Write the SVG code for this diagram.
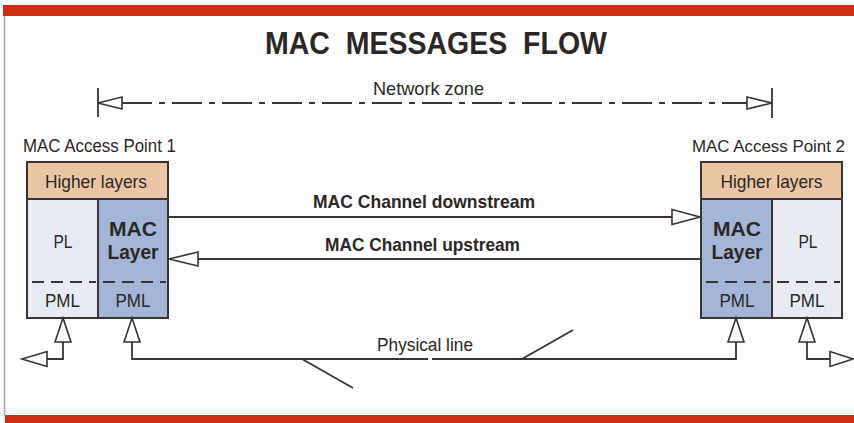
<svg xmlns="http://www.w3.org/2000/svg" width="854" height="423" viewBox="0 0 854 423">
<style>
.ln{stroke:#3a3331;stroke-width:1.8;fill:none}
.ah{stroke:#3a3331;stroke-width:1.6;fill:#fff;stroke-linejoin:miter}
.box{stroke:#3a3331;stroke-width:2}
.hl{fill:#ecc6a4}
.pl{fill:#e8ebf4}
.mac{fill:#a3b6d8}
.dash{stroke:#3a3331;stroke-width:1.8;stroke-dasharray:12 7}
.t{font-family:"Liberation Sans",Arial,sans-serif;fill:#2b2726}
.b{font-weight:bold}
</style>
<rect width="854" height="423" fill="#fff"/>
<rect x="3" y="5" width="851" height="11" fill="#cf2d12"/>
<rect x="5" y="415" width="849" height="8" fill="#cf2d12"/>
<line x1="4.5" y1="16" x2="4.5" y2="415" stroke="#a9a4a2" stroke-width="1.5"/>

<text class="t b" x="265" y="54" font-size="31" textLength="342" lengthAdjust="spacingAndGlyphs" fill="#231f20" xml:space="preserve" style="white-space:pre">MAC  MESSAGES  FLOW</text>

<g id="network-zone">
  <line class="ln" x1="98" y1="88" x2="98" y2="117"/>
  <line class="ln" x1="772" y1="88" x2="772" y2="118"/>
  <line class="ln" x1="122" y1="103" x2="747" y2="103" stroke-dasharray="30 7 6 7" stroke-width="1.5"/>
  <polygon class="ah" points="98,103 122,97 122,109"/>
  <polygon class="ah" points="772,103 747,97 747,109"/>
  <text class="t" x="373" y="95" font-size="19" textLength="111" lengthAdjust="spacingAndGlyphs">Network zone</text>
</g>

<g id="ap1">
  <text class="t" x="23" y="152" font-size="19" textLength="153" lengthAdjust="spacingAndGlyphs">MAC Access Point 1</text>
  <rect class="box hl" x="27" y="162" width="141" height="37"/>
  <text class="t" x="96" y="188" font-size="19" text-anchor="middle" textLength="102" lengthAdjust="spacingAndGlyphs">Higher layers</text>
  <rect class="box pl" x="27" y="199" width="71" height="119"/>
  <rect class="box mac" x="98" y="199" width="70" height="119"/>
  <line class="dash" x1="29" y1="282" x2="96" y2="282" stroke-dashoffset="-3"/>
  <line class="dash" x1="100" y1="282" x2="166" y2="282" stroke-dashoffset="-3"/>
  <text class="t" x="63" y="248" font-size="18" text-anchor="middle" textLength="19" lengthAdjust="spacingAndGlyphs">PL</text>
  <text class="t b" x="133" y="236" font-size="20.5" text-anchor="middle" fill="#1e2331" textLength="48" lengthAdjust="spacingAndGlyphs">MAC</text>
  <text class="t b" x="133" y="259" font-size="20.5" text-anchor="middle" fill="#1e2331" textLength="51" lengthAdjust="spacingAndGlyphs">Layer</text>
  <text class="t" x="62.5" y="307" font-size="19" text-anchor="middle" textLength="35" lengthAdjust="spacingAndGlyphs">PML</text>
  <text class="t" x="133" y="307" font-size="19" text-anchor="middle" textLength="35" lengthAdjust="spacingAndGlyphs">PML</text>
</g>

<g id="ap2">
  <text class="t" x="692" y="152" font-size="16.8" textLength="153" lengthAdjust="spacingAndGlyphs">MAC Access Point 2</text>
  <rect class="box hl" x="701" y="162" width="141" height="37"/>
  <text class="t" x="771.5" y="188" font-size="19" text-anchor="middle" textLength="102" lengthAdjust="spacingAndGlyphs">Higher layers</text>
  <rect class="box mac" x="701" y="199" width="71" height="119"/>
  <rect class="box pl" x="772" y="199" width="70" height="119"/>
  <line class="dash" x1="703" y1="282" x2="770" y2="282" stroke-dashoffset="-3"/>
  <line class="dash" x1="774" y1="282" x2="840" y2="282" stroke-dashoffset="-3"/>
  <text class="t b" x="737" y="236" font-size="20.5" text-anchor="middle" fill="#1e2331" textLength="48" lengthAdjust="spacingAndGlyphs">MAC</text>
  <text class="t b" x="737" y="259" font-size="20.5" text-anchor="middle" fill="#1e2331" textLength="51" lengthAdjust="spacingAndGlyphs">Layer</text>
  <text class="t" x="808" y="248" font-size="18" text-anchor="middle" textLength="19" lengthAdjust="spacingAndGlyphs">PL</text>
  <text class="t" x="737" y="307" font-size="19" text-anchor="middle" textLength="35" lengthAdjust="spacingAndGlyphs">PML</text>
  <text class="t" x="807" y="307" font-size="19" text-anchor="middle" textLength="35" lengthAdjust="spacingAndGlyphs">PML</text>
</g>

<g id="connectors">
  <line class="ln" x1="168" y1="217" x2="672" y2="217"/>
  <polygon class="ah" points="700,217 672,209.5 672,224.5"/>
  <text class="t b" x="313" y="208" font-size="19" textLength="222" lengthAdjust="spacingAndGlyphs">MAC Channel downstream</text>
  <line class="ln" x1="198" y1="259" x2="701" y2="259"/>
  <polygon class="ah" points="169,259 198,252 198,266"/>
  <text class="t b" x="325" y="251" font-size="19" textLength="195" lengthAdjust="spacingAndGlyphs">MAC Channel upstream</text>

  <polyline class="ln" points="63,342 63,359 47,359"/>
  <polygon class="ah" points="63,318 55,342 71,342"/>
  <polygon class="ah" points="22,359 47,351.5 47,366.5"/>

  <polyline class="ln" points="132,342 132,359 428,359"/>
  <polyline class="ln" points="432,359 736,359 736,342"/>
  <polygon class="ah" points="132,318 124,342 140,342"/>
  <polygon class="ah" points="736,318 728,342 744,342"/>
  <line class="ln" x1="302" y1="359" x2="353" y2="388"/>
  <line class="ln" x1="522" y1="359" x2="573" y2="330"/>
  <text class="t" x="377" y="351" font-size="19" textLength="96" lengthAdjust="spacingAndGlyphs">Physical line</text>

  <polyline class="ln" points="807,342 807,359 830,359"/>
  <polygon class="ah" points="807,318 799,342 815,342"/>
  <polygon class="ah" points="853,359 830,351.5 830,366.5"/>
</g>
</svg>
